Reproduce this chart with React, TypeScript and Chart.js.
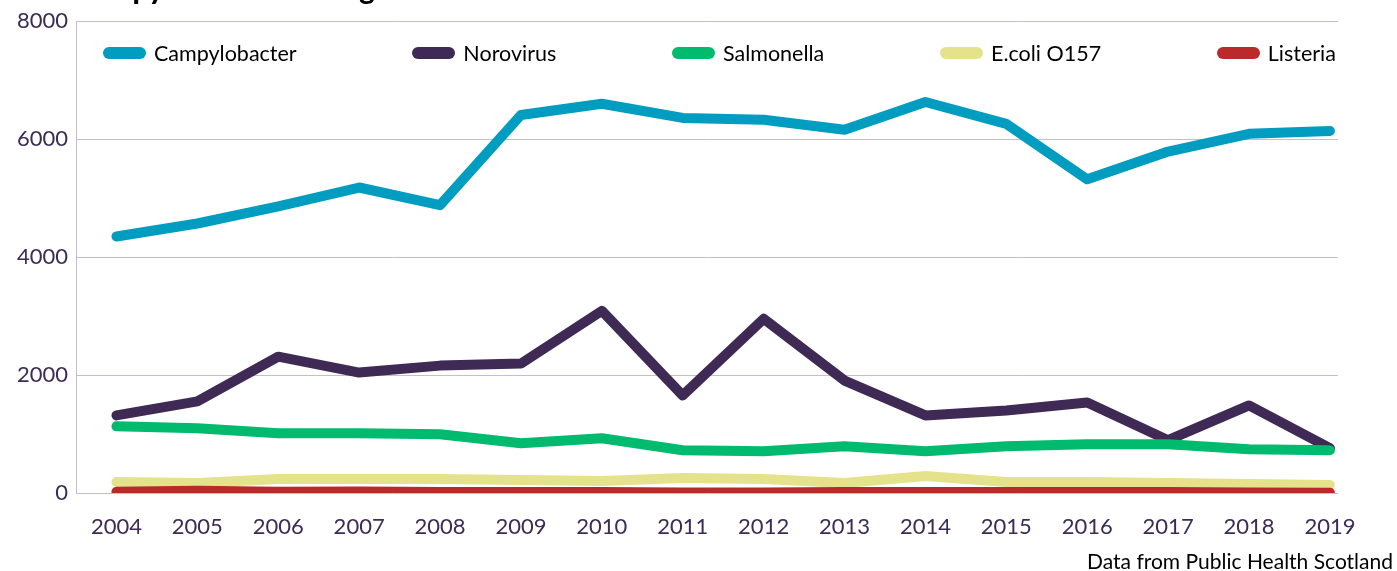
import React, { useEffect, useRef } from "react";
import { Chart, registerables } from "chart.js";

Chart.register(...registerables);

const years = [2004, 2005, 2006, 2007, 2008, 2009, 2010, 2011, 2012, 2013, 2014, 2015, 2016, 2017, 2018, 2019];
const campylobacter = [4350, 4570, 4860, 5180, 4880, 6410, 6600, 6360, 6330, 6160, 6630, 6260, 5320, 5790, 6090, 6140];
const norovirus = [1316, 1553, 2312, 2042, 2160, 2194, 3089, 1654, 2954, 1907, 1316, 1400, 1536, 895, 1485, 760];
const salmonella = [1130, 1097, 1013, 1013, 996, 844, 928, 726, 709, 793, 709, 793, 827, 827, 743, 726];
const ecoli = [186, 169, 236, 236, 236, 219, 203, 253, 236, 169, 287, 186, 186, 169, 152, 135];
const listeria = [20, 40, 20, 25, 15, 15, 15, 10, 10, 15, 15, 15, 15, 15, 10, 5];
const yTicks = [0, 2000, 4000, 6000, 8000];

const seriesNames = ["Campylobacter", "Norovirus", "Salmonella", "E.coli O157", "Listeria"];
const seriesColors = ["#009dc0", "#3f2a56", "#00bb6e", "#e5e28c", "#bb2a2a"];
const seriesValues = [campylobacter, norovirus, salmonella, ecoli, listeria];

const titleText = "Campylobacter causing the most infection cases";
const sourceText = "Data from Public Health Scotland";

const FONT = "Lato, 'DejaVu Sans', sans-serif";
const TICK_COLOR = "#3d2b56";
const GRID_COLOR = "#c4bdd0";

export default function App() {
  const canvasRef = useRef<HTMLCanvasElement | null>(null);

  useEffect(() => {
    const canvas = canvasRef.current;
    if (!canvas) return;
    const chart = new Chart(canvas, {
      type: "line",
      data: {
        datasets: seriesNames.map((name, i) => ({
          label: name,
          data: years.map((y, j) => ({ x: y, y: seriesValues[i][j] })),
          borderColor: seriesColors[i],
          backgroundColor: seriesColors[i],
          borderWidth: 10,
          borderCapStyle: "round" as const,
          borderJoinStyle: "round" as const,
          pointRadius: 0,
          tension: 0,
          order: seriesNames.length - i,
        })),
      },
      options: {
        animation: false,
        responsive: false,
        maintainAspectRatio: false,
        layout: { padding: { left: 0, top: 19, right: 59, bottom: 0 } },
        plugins: {
          legend: { display: false },
          tooltip: { enabled: false },
        },
        scales: {
          x: {
            type: "linear",
            min: 2003.5,
            max: 2019.1,
            grid: { display: false, drawTicks: false },
            border: { display: false },
            afterBuildTicks: (scale: any) => {
              scale.ticks = years.map((v) => ({ value: v }));
            },
            afterFit: (scale: any) => {
              scale.height = 78;
            },
            ticks: {
              autoSkip: false,
              maxRotation: 0,
              padding: 21,
              color: TICK_COLOR,
              font: { family: FONT, size: 22 },
              callback: (v: any) => String(v),
            },
          },
          y: {
            type: "linear",
            min: 0,
            max: 8000,
            afterBuildTicks: (scale: any) => {
              scale.ticks = yTicks.map((v) => ({ value: v }));
            },
            afterFit: (scale: any) => {
              scale.width = 76;
            },
            grid: { color: GRID_COLOR, lineWidth: 1, drawTicks: false },
            border: { display: true, color: GRID_COLOR, width: 1 },
            ticks: {
              padding: 8,
              color: TICK_COLOR,
              font: { family: FONT, size: 22 },
              callback: (v: any) => String(v),
            },
          },
        },
      },
    });
    return () => chart.destroy();
  }, []);

  return (
    <div style={{ position: "fixed", left: 0, top: 0, width: 1397, height: 571, overflow: "hidden", background: "#fff" }}>
      <canvas ref={canvasRef} width={1397} height={571} style={{ position: "absolute", left: 0, top: 0, width: 1397, height: 571 }} />
      <div
        style={{
          position: "absolute",
          left: 74,
          top: -30,
          fontFamily: FONT,
          fontWeight: 900,
          fontSize: 29,
          color: "#000",
          whiteSpace: "nowrap",
        }}
      >
        {titleText}
      </div>
      <div
        style={{
          position: "absolute",
          left: 103,
          width: 1233,
          top: 40,
          height: 26,
          display: "flex",
          justifyContent: "space-between",
          alignItems: "center",
          fontFamily: FONT,
          fontSize: 21.5,
          color: "#000",
        }}
      >
        {seriesNames.map((name, i) => (
          <div key={name} style={{ display: "flex", alignItems: "center", whiteSpace: "nowrap" }}>
            <span
              style={{
                display: "inline-block",
                width: 43,
                height: 12,
                borderRadius: 6,
                background: seriesColors[i],
                marginRight: 8,
              }}
            />
            <span>{name}</span>
          </div>
        ))}
      </div>
      <div
        style={{
          position: "absolute",
          right: 4,
          top: 548,
          fontFamily: FONT,
          fontSize: 21,
          color: "#000",
          whiteSpace: "nowrap",
        }}
      >
        {sourceText}
      </div>
    </div>
  );
}
